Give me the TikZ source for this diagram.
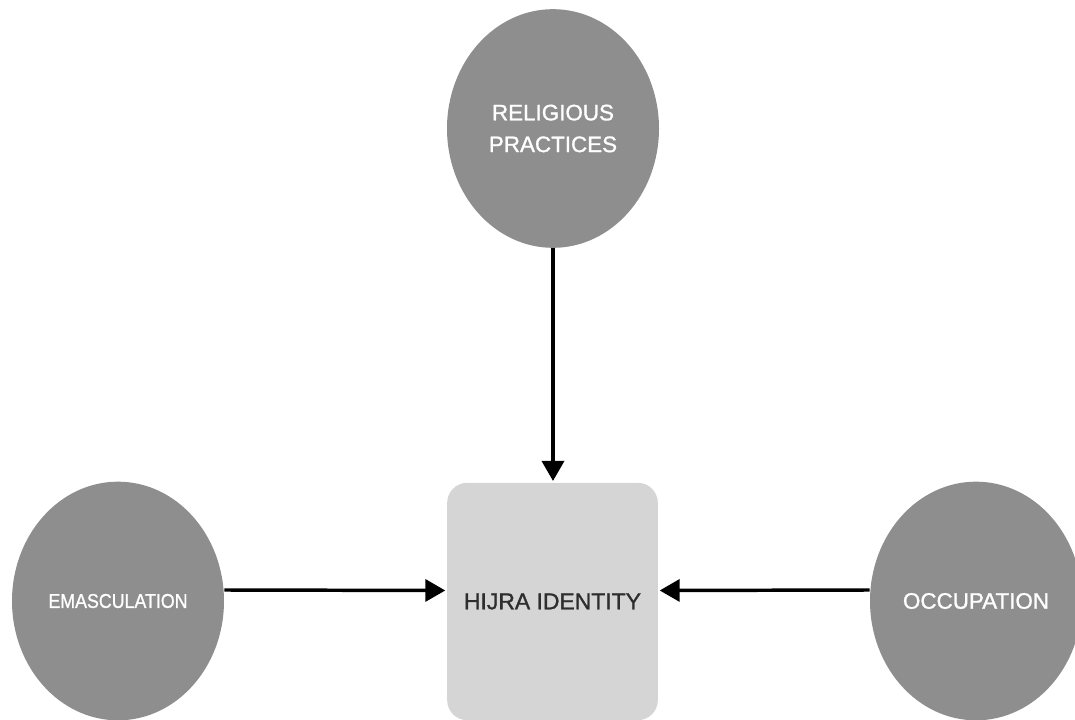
\documentclass[tikz,border=0pt]{standalone}
\usepackage{fontspec}
\setmainfont{Liberation Sans}
\newfontfamily\medfont[FakeBold=1.2]{Liberation Sans}
\usetikzlibrary{shapes.geometric,arrows.meta}
\definecolor{circgray}{HTML}{8E8E8E}
\definecolor{boxgray}{HTML}{D5D5D5}
\definecolor{boxtext}{HTML}{2E2E2E}
\tikzset{
  factor/.style={ellipse, fill=circgray, draw=none, minimum width=159pt, minimum height=179pt,
    inner sep=0pt, text=white, align=center, font=\medfont\fontsize{16.8}{23.8}\selectfont},
  core/.style={rectangle, rounded corners=15pt, fill=boxgray, draw=none, minimum width=158pt,
    minimum height=178pt, inner sep=0pt, text=boxtext, font=\medfont\fontsize{17.2}{20}\selectfont},
  link/.style={line width=2.6pt, -{Triangle[length=15pt,width=16.5pt]}, shorten >=1.2pt}
}
\begin{document}
\begin{tikzpicture}[x=0.75pt,y=-0.75pt]
  \useasboundingbox (0,0) rectangle (1075,720);
  \node[factor] (rel) at (553,128.5) {RELIGIOUS\\PRACTICES};
  \node[factor] (ema) at (118,601) {\fontsize{15}{18}\selectfont\scalebox{0.89}[1]{EMASCULATION}};
  \node[factor] (occ) at (976,601) {OCCUPATION};
  \node[core] (hij) at (552.5,601.5) {HIJRA IDENTITY};
  \draw[link] (rel.south) -- (rel.south |- hij.north);
  \draw[link] ([yshift=8.25pt]ema.east) -- ([yshift=8.25pt]hij.west);
  \draw[link] ([yshift=8.25pt]occ.west) -- ([yshift=8.25pt]hij.east);
\end{tikzpicture}
\end{document}
